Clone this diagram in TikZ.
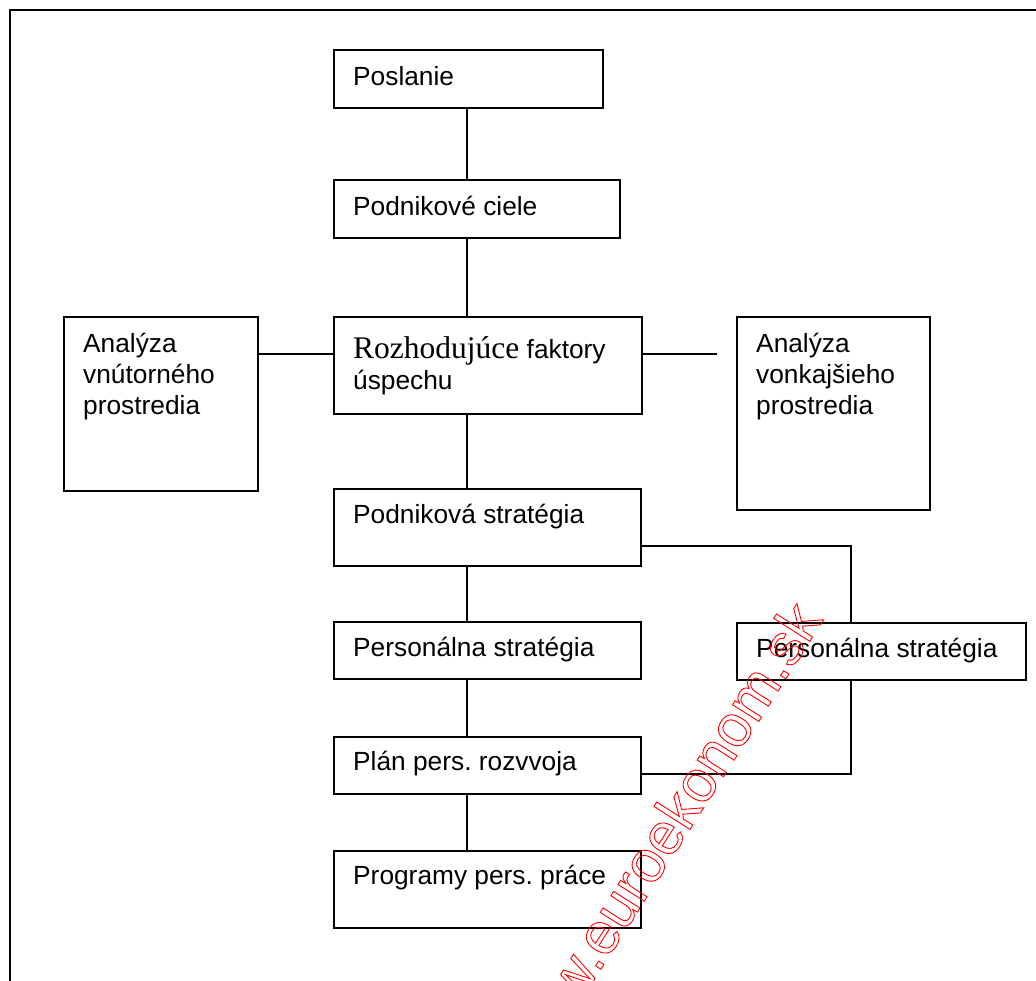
\documentclass[tikz,border=0pt]{standalone}
\usepackage{fontspec}
\setmainfont{Liberation Sans}
\newfontfamily\timesfont{Liberation Serif}
\usepackage{xcolor}
\usetikzlibrary{positioning,calc}
\frenchspacing
\definecolor{cLine}{HTML}{000000}
\definecolor{cMark}{HTML}{FF0000}
\newcommand{\outlinetext}[1]{\special{pdf:code 1 Tr 0.9 w}#1\special{pdf:code 0 Tr}}
\tikzset{
  box/.style   ={draw=cLine,line width=1.8pt,anchor=north west,inner sep=0pt},
  txt/.style   ={anchor=base west,align=left,inner sep=0pt,
                 font=\fontsize{26.3}{31}\selectfont,xshift=20pt,yshift=-35pt},
  link/.style  ={cLine,line width=1.4pt},
  frame/.style ={cLine,line width=2.6pt},
  wmark/.style ={anchor=base west,rotate=57.5,inner sep=0pt,text=cMark,
                 font=\fontsize{59}{59}\selectfont},
}

\begin{document}
\begin{tikzpicture}[x=1pt,y=-1pt]
  \useasboundingbox (0,0) rectangle (1036,980);
  \clip (0,0) rectangle (1036,980);
  \draw[frame] (10,10) rectangle (1060,1000);

  \coordinate (spine) at (467,0);
  \coordinate (mid) at (0,354);
  \coordinate (vonkend) at (717,354);
  \coordinate (branch) at (851,546);
  \coordinate (join) at (851,774);

  \node[box,minimum width=269pt,minimum height=58pt,label={[txt,yshift=-1pt]north west:Poslanie}] (posl) at (333,49) {};
  \node[box,minimum width=286pt,minimum height=58pt,label={[txt,yshift=-1pt]north west:Podnikové ciele}] (ciele) at (333,179) {};
  \node[box,minimum width=308pt,minimum height=97pt,
        label={[txt,yshift=-38pt]north west:{{\timesfont\fontsize{31.5}{31}\selectfont Rozhodujúce} faktory\\úspechu}}] (rozh) at (333,316) {};
  \node[box,minimum width=194pt,minimum height=174pt,label={[txt,yshift=-63pt]north west:Analýza\\vnútorného\\prostredia}] (vnut) at (63,316) {};
  \node[box,minimum width=193pt,minimum height=193pt,label={[txt,yshift=-63pt]north west:Analýza\\vonkajšieho\\prostredia}] (vonk) at (736,316) {};
  \node[box,minimum width=307pt,minimum height=77pt,label={[txt]north west:Podniková stratégia}] (podstr) at (333,488) {};
  \node[box,minimum width=307pt,minimum height=57pt,label={[txt]north west:Personálna stratégia}] (pers1) at (333,621) {};
  \node[box,minimum width=289pt,minimum height=57pt,label={[txt]north west:Personálna stratégia}] (pers2) at (736,622) {};
  \node[box,minimum width=307pt,minimum height=57pt,label={[txt,yshift=1pt]north west:Plán pers. rozvvoja}] (plan) at (333,736) {};
  \node[box,minimum width=307pt,minimum height=77pt,label={[txt,yshift=1pt]north west:Programy pers. práce}] (prog) at (333,850) {};

  \draw[link] (posl.south -| spine) -- (ciele.north -| spine);
  \draw[link] (ciele.south -| spine) -- (rozh.north -| spine);
  \draw[link] (rozh.south -| spine) -- (podstr.north -| spine);
  \draw[link] (podstr.south -| spine) -- (pers1.north -| spine);
  \draw[link] (pers1.south -| spine) -- (plan.north -| spine);
  \draw[link] (plan.south -| spine) -- (prog.north -| spine);
  \draw[link] (vnut.east |- mid) -- (rozh.west |- mid);
  \draw[link] (rozh.east |- mid) -- (vonkend);
  \draw[link] (podstr.east |- branch) -| (pers2.north -| branch);
  \draw[link] (pers2.south -| join) |- (plan.east |- join);

  \node[wmark] (watermark) at (531,1079) {\outlinetext{www.euroekonom.sk}};
\end{tikzpicture}
\end{document}
